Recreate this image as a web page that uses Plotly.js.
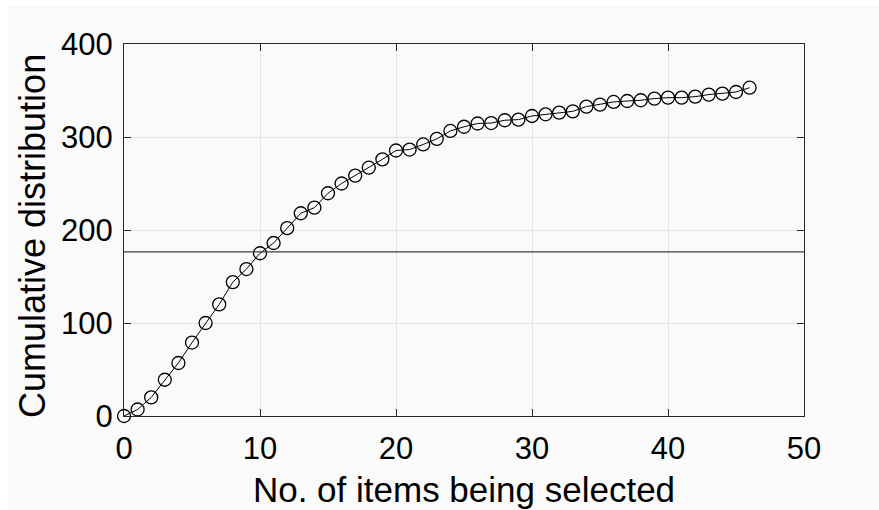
<!DOCTYPE html>
<html>
<head>
<meta charset="utf-8">
<script src="https://cdn.plot.ly/plotly-3.0.1.min.js"></script>
<style>
html,body{margin:0;padding:0;background:#ffffff;width:879px;height:510px;overflow:hidden;}
#chart{position:absolute;left:8px;top:6px;width:871px;height:504px;}
</style>
</head>
<body>
<div id="chart"></div>
<script>
const items = [0,1,2,3,4,5,6,7,8,9,10,11,12,13,14,15,16,17,18,19,20,21,22,23,24,25,26,27,28,29,30,31,32,33,34,35,36,37,38,39,40,41,42,43,44,45,46];
const cumulative = [0,7,20,39,57,79,100,120,144,158,175,186,202,218,224,239.5,250,258.5,267,276,285.5,286.5,292,298,306.5,311,314.5,315,318,318.7,322.6,324.4,326.2,327.6,332.7,334.8,337.7,338.7,339.5,341.3,342.3,342.3,343.4,345.6,346.6,348.4,353];
const halfLevel = 176.5;
const xTicks = [0,10,20,30,40,50];
const yTicks = [0,100,200,300,400];
const xTitle = 'No. of items being selected';
const yTitle = 'Cumulative distribution';

const trace = {
  x: items, y: cumulative, type: 'scatter', mode: 'lines+markers',
  line: {color: '#000000', width: 1},
  marker: {symbol: 'circle-open', size: 13, color: '#000000', line: {width: 1.3, color: '#000000'}},
  cliponaxis: false, showlegend: false, hoverinfo: 'skip'
};

const fontFam = 'Liberation Sans, Arial, sans-serif';
const axisCommon = {
  showline: true, linecolor: '#262626', linewidth: 1,
  mirror: 'ticks', ticks: 'inside', ticklen: 7, tickwidth: 1, tickcolor: '#262626',
  showgrid: true, gridcolor: '#e3e3e3', gridwidth: 1, zeroline: false,
  tickfont: {family: fontFam, size: 31, color: '#000000'}
};

const layout = {
  width: 871, height: 504,
  paper_bgcolor: '#fafafa', plot_bgcolor: '#fafafa',
  margin: {l: 116, r: 75, t: 38, b: 94},
  xaxis: Object.assign({}, axisCommon, {
    range: [0, 50], tickvals: xTicks, ticktext: xTicks.map(String),
    ticklabelstandoff: 5,
    title: {text: xTitle, standoff: 12,
      font: {family: fontFam, size: 35, color: '#000000'}}
  }),
  yaxis: Object.assign({}, axisCommon, {
    range: [0, 400], tickvals: yTicks, ticktext: yTicks.map(String),
    ticklabelstandoff: 4
  }),
  annotations: [{
    text: yTitle, xref: 'paper', yref: 'paper', x: 0, y: 0.5,
    xanchor: 'center', yanchor: 'middle', textangle: -90,
    xshift: -92, yshift: -6, showarrow: false,
    font: {family: fontFam, size: 36, color: '#000000'}
  }],
  shapes: [{type: 'line', xref: 'paper', yref: 'y', x0: 0, x1: 1, y0: halfLevel, y1: halfLevel,
    line: {color: '#404040', width: 1.3}}]
};

Plotly.newPlot('chart', [trace], layout, {displayModeBar: false, staticPlot: true});
</script>
</body>
</html>
